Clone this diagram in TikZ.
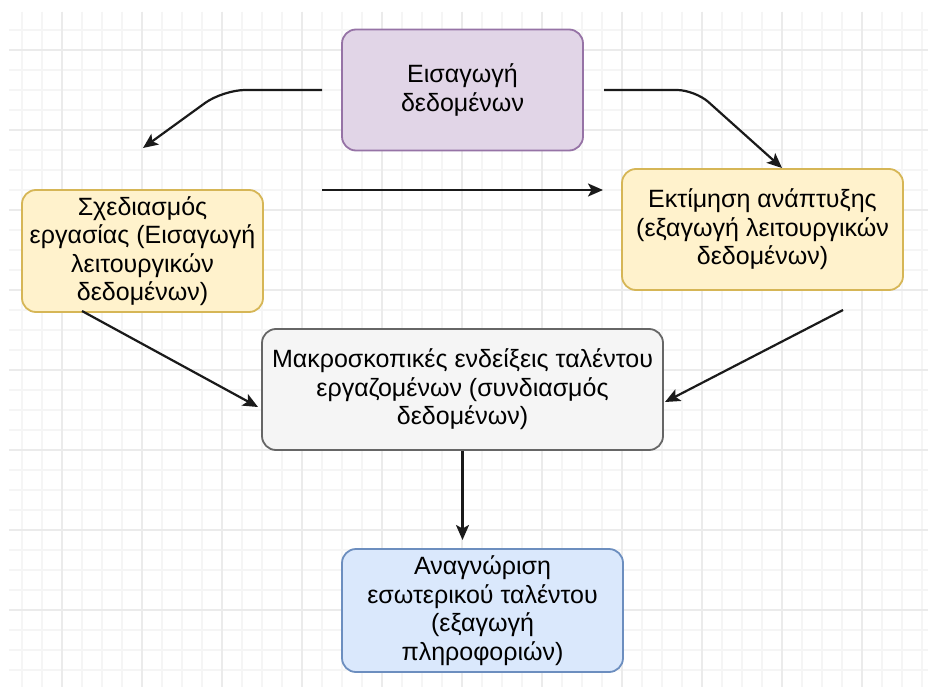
\documentclass[tikz,border=0pt]{standalone}
\usepackage{fontspec}
\setmainfont{Liberation Sans}
\usetikzlibrary{arrows.meta}
\definecolor{gridminor}{HTML}{F5F5F5}
\definecolor{gridmajor}{HTML}{EBEBEB}
\definecolor{purplefill}{HTML}{E1D5E7}
\definecolor{purpleline}{HTML}{9673A6}
\definecolor{yellowfill}{HTML}{FFF2CC}
\definecolor{yellowline}{HTML}{D6B656}
\definecolor{grayfill}{HTML}{F5F5F5}
\definecolor{grayline}{HTML}{666666}
\definecolor{bluefill}{HTML}{DAE8FC}
\definecolor{blueline}{HTML}{6C8EBF}
\definecolor{ink}{HTML}{1A1A1A}
\tikzset{
  box/.style={rounded corners=14pt, line width=1.8pt, inner sep=0pt,
    align=center, text=black,
    font=\fontsize{25}{28.5}\selectfont},
  flow/.style={draw=ink, line width=2.2pt,
    -{Stealth[length=15pt, width=13pt, inset=3.5pt]}},
}
\begin{document}
\begin{tikzpicture}[x=1pt, y=-1pt]
  \useasboundingbox (0,0) rectangle (928,687);
  \fill[white] (0,0) rectangle (928,687);
  % background grid
  \begin{scope}
    \clip (9,12) rectangle (928,687);
    \foreach \gx in {22,42,...,922} \draw[gridminor, line width=1.3pt] (\gx,12) -- (\gx,687);
    \foreach \gy in {30,50,...,670} \draw[gridminor, line width=1.3pt] (9,\gy) -- (928,\gy);
    \foreach \gx in {62,142,...,862} \draw[gridmajor, line width=1.5pt] (\gx,12) -- (\gx,687);
    \foreach \gy in {50,130,...,610} \draw[gridmajor, line width=1.5pt] (9,\gy) -- (928,\gy);
  \end{scope}

  % process boxes
  \node[box, draw=purpleline, fill=purplefill, minimum width=241pt, minimum height=121pt]
    (input) at (462.5,90) {Εισαγωγή\\δεδομένων};
  \node[box, draw=yellowline, fill=yellowfill, minimum width=241pt, minimum height=122pt]
    (plan) at (142.5,251) {Σχεδιασμός\\εργασίας (Εισαγωγή\\λειτουργικών\\δεδομένων)};
  \node[box, draw=yellowline, fill=yellowfill, minimum width=281pt, minimum height=121pt]
    (est) at (762.5,229.5) {Εκτίμηση ανάπτυξης\\(εξαγωγή λειτουργικών\\δεδομένων)};
  \node[box, draw=grayline, fill=grayfill, minimum width=401pt, minimum height=121pt]
    (macro) at (462.5,389.5) {Μακροσκοπικές ενδείξεις ταλέντου\\εργαζομένων (συνδιασμός\\δεδομένων)};
  \node[box, draw=blueline, fill=bluefill, minimum width=281pt, minimum height=123pt]
    (recog) at (482.5,610.5) {Αναγνώριση\\εσωτερικού ταλέντου\\(εξαγωγή\\πληροφοριών)};

  % free connector ends
  \coordinate (a1s) at (322,90);
  \coordinate (a1c) at (223,90);
  \coordinate (a1e) at (143,148);
  \coordinate (a2s) at (604,90);
  \coordinate (a2c) at (695,90);
  \coordinate (a2e) at (782,168);
  \coordinate (a3s) at (322,190);
  \coordinate (a3e) at (603,190);
  \coordinate (a4s) at (82,311);
  \coordinate (a4e) at (258,407);
  \coordinate (a5s) at (843,310);
  \coordinate (a5e) at (665,402);
  \coordinate (a6e) at (462.5,540);

  % connectors
  \draw[flow, rounded corners=22pt] (a1s) -- (a1c) -- (a1e);
  \draw[flow, rounded corners=18pt] (a2s) -- (a2c) -- (a2e);
  \draw[flow] (a3s) -- (a3e);
  \draw[flow] (a4s) -- (a4e);
  \draw[flow] (a5s) -- (a5e);
  \draw[flow] (macro.south) -- (a6e);
\end{tikzpicture}
\end{document}
